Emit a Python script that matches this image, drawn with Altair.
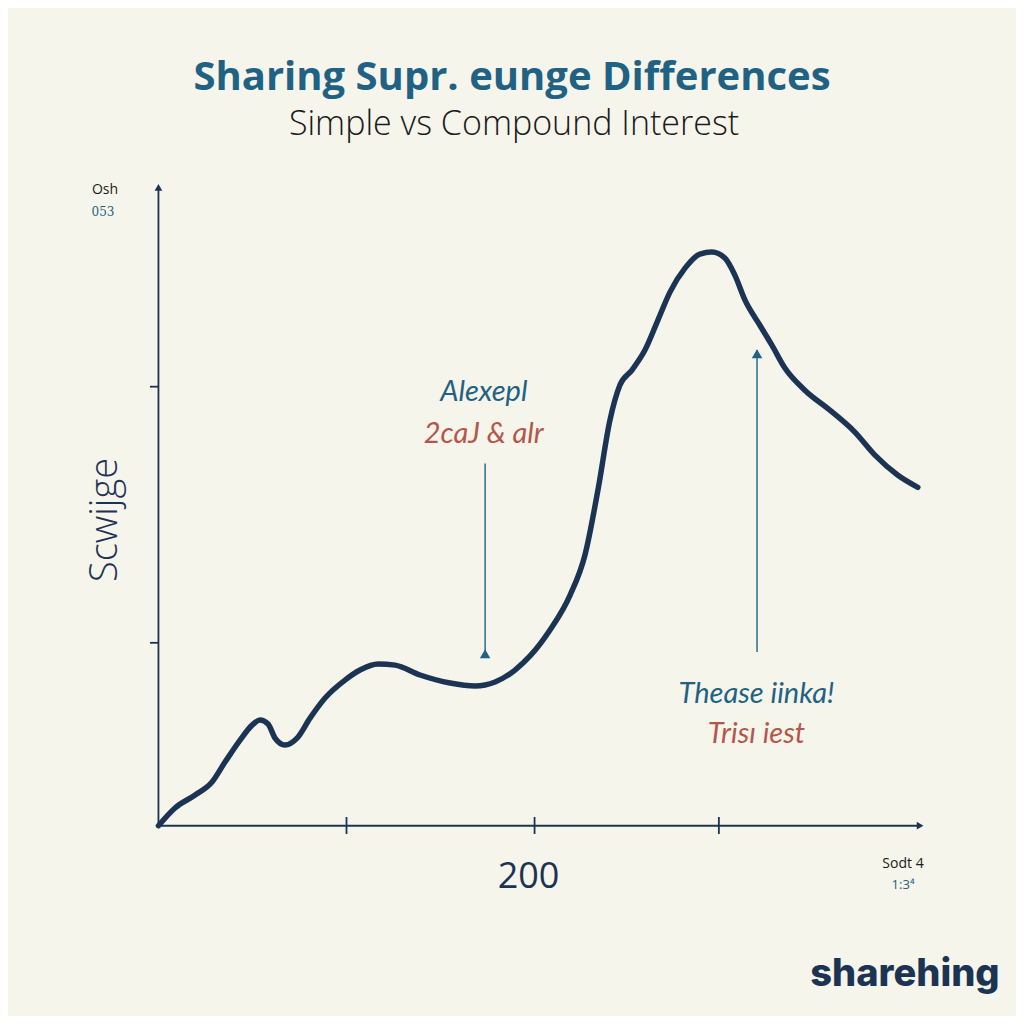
import altair as alt
import pandas as pd

# ---------------- data ----------------
curve_x = [0, 8.8, 19.5, 28.5, 35.4, 43.4, 49.8, 54, 58.3, 62, 67.3, 73.7, 80.6, 88.6, 99.2,
           107.2, 116.8, 125.8, 139.1, 155.1, 168.4, 179, 189.6, 197.6, 208.2, 218.9, 226.8,
           233.7, 240.1, 245.4, 251.8, 258.7, 265.6, 272, 280, 287.9, 294.3, 301.2, 306.5,
           311.9, 319.8, 326.2, 333.1, 343.7, 357, 370.3, 381, 393.2, 403.8]
curve_y = [0, 9.7, 16.8, 23.9, 34.8, 46.8, 55, 57.8, 55.6, 47.9, 44.1, 47.9, 58.8, 69.8, 79.6,
           85.1, 88.4, 87.8, 82.4, 78, 76.4, 78.6, 85.1, 92.8, 107, 126.1, 148,
           183.5, 221.8, 240.9, 249.1, 260, 276.4, 291.7, 304.8, 312.5, 313.6, 310.3, 301,
           287.3, 273.6, 262.7, 250.2, 238.1, 227.2, 215.2, 202.6, 191.6, 185]

x_ticks = [100, 200, 298]
x_tick_labels = ["", "200", ""]
y_ticks = [100, 240]
x_axis_end = 405
y_axis_end = 349

title_text = "Sharing Supr. eunge Differences"
subtitle_text = "Simple vs Compound Interest"
y_title = "Scwijge"
corner_top = ["Osh", "053"]
corner_bottom = ["Sodt 4", "1:3⁴"]
logo_text = "sharehing"

ann_x = [173.7, 318.3]
ann_top = [198, 260]
ann_bottom = [92, 95]
ann_line1 = ["Alexepl", "Thease iinka!"]
ann_line2 = ["2caJ & alr", "Trisı iest"]
ann_text_x = [173, 318]
ann_text_y1 = [237, 72]
ann_text_y2 = [214, 50]

# ---------------- styling ----------------
BG = "#f6f5ec"
NAVY = "#1c3453"
TEAL = "#1f6283"
RED = "#b5564a"

xs = alt.Scale(domain=[-80, 456], nice=False, zero=False)
ys = alt.Scale(domain=[-104, 447], nice=False, zero=False)


def X(f, **kw):
    return alt.X(f, type="quantitative", scale=xs, axis=None, **kw)


def Y(f, **kw):
    return alt.Y(f, type="quantitative", scale=ys, axis=None, **kw)


curve = alt.Chart(pd.DataFrame({"x": curve_x, "y": curve_y})).mark_line(
    color=NAVY, strokeWidth=5.5, interpolate="monotone", strokeCap="round"
).encode(x=X("x"), y=Y("y"), order="x:Q")

axes_df = pd.DataFrame({"x": [0, 0], "y": [0, 0], "x2": [0, x_axis_end], "y2": [y_axis_end, 0]})
axes = alt.Chart(axes_df).mark_rule(color=NAVY, strokeWidth=1.8).encode(
    x=X("x"), y=Y("y"), x2="x2:Q", y2="y2:Q"
)

heads = alt.Chart(pd.DataFrame({
    "x": [0, x_axis_end], "y": [y_axis_end, 0], "s": ["triangle-up", "triangle-right"]
})).mark_point(filled=True, color=NAVY, size=60, opacity=1).encode(
    x=X("x"), y=Y("y"),
    shape=alt.Shape("s:N", scale=alt.Scale(domain=["triangle-up", "triangle-right"],
                                           range=["triangle-up", "triangle-right"]), legend=None)
)

xt = alt.Chart(pd.DataFrame({"x": x_ticks})).mark_rule(color=NAVY, strokeWidth=1.8).encode(
    x=X("x"), y=alt.value(809), y2=alt.value(826)
)
yt = alt.Chart(pd.DataFrame({"y": y_ticks})).mark_rule(color=NAVY, strokeWidth=1.8).encode(
    y=Y("y"), x=alt.value(142), x2=alt.value(150)
)
xlab = alt.Chart(pd.DataFrame({"x": x_ticks, "t": x_tick_labels})).mark_text(
    font="Open Sans", fontSize=36, color=NAVY, baseline="middle", dx=-6
).encode(x=X("x"), y=alt.value(869), text="t:N")

# annotation arrows
arr_df = pd.DataFrame({"x": ann_x, "top": ann_top, "bottom": ann_bottom})
arr = alt.Chart(arr_df).mark_rule(color=TEAL, strokeWidth=1.4).encode(
    x=X("x"), y=Y("top"), y2="bottom:Q"
)
arr_heads = alt.Chart(pd.DataFrame({
    "x": ann_x, "y": [ann_bottom[0] + 2, ann_top[1] - 2], "s": ["triangle-down", "triangle-up"]
})).mark_point(filled=True, color=TEAL, size=110, opacity=1).encode(
    x=X("x"), y=Y("y"),
    shape=alt.Shape("s:N", scale=alt.Scale(domain=["triangle-down", "triangle-up"],
                                           range=["triangle-down", "triangle-up"]), legend=None)
)

ann_df = pd.DataFrame({"x": ann_text_x, "y1": ann_text_y1, "y2": ann_text_y2,
                       "t1": ann_line1, "t2": ann_line2})
ann1 = alt.Chart(ann_df).mark_text(font="Lato", fontStyle="italic", fontSize=29, color=TEAL).encode(
    x=X("x"), y=Y("y1"), text="t1:N"
)
ann2 = alt.Chart(ann_df).mark_text(font="Lato", fontStyle="italic", fontSize=29, color=RED).encode(
    x=X("x"), y=Y("y2"), text="t2:N"
)

one = pd.DataFrame({"a": [0]})


def label(text, px, py, **kw):
    return alt.Chart(one).mark_text(**kw).encode(
        x=alt.value(px), y=alt.value(py), text=alt.value(text)
    )


texts = [
    label(title_text, 504, 70, font="Open Sans", fontWeight="bold", fontSize=40, color=TEAL),
    label(subtitle_text, 506, 117, font="Open Sans", fontWeight=300, fontSize=34, color="#1a1a1a"),
    label(y_title, 98, 512, font="Open Sans", fontWeight=300, fontSize=38, color=NAVY, angle=270),
    label(corner_top[0], 97, 182, font="Open Sans", fontSize=14, color="#1a1a1a"),
    label(corner_top[1], 95, 204, font="DejaVu Serif", fontSize=12, color=TEAL),
    label(corner_bottom[0], 895, 856, font="Open Sans", fontSize=14, color="#1a1a1a"),
    label(corner_bottom[1], 895, 877, font="Open Sans", fontSize=13, color=TEAL),
    label(logo_text, 897, 967, font="Inter", fontWeight=800, fontSize=38, color=NAVY),
]

chart = alt.layer(
    axes, heads, xt, yt, xlab, arr, arr_heads, ann1, ann2, curve, *texts
).properties(
    width=1008, height=1008, background=BG,
    autosize=alt.AutoSizeParams(type="none"), padding=0
).configure_view(stroke=None)

chart.save("out.html", embed_options={"renderer": "svg", "actions": False})
